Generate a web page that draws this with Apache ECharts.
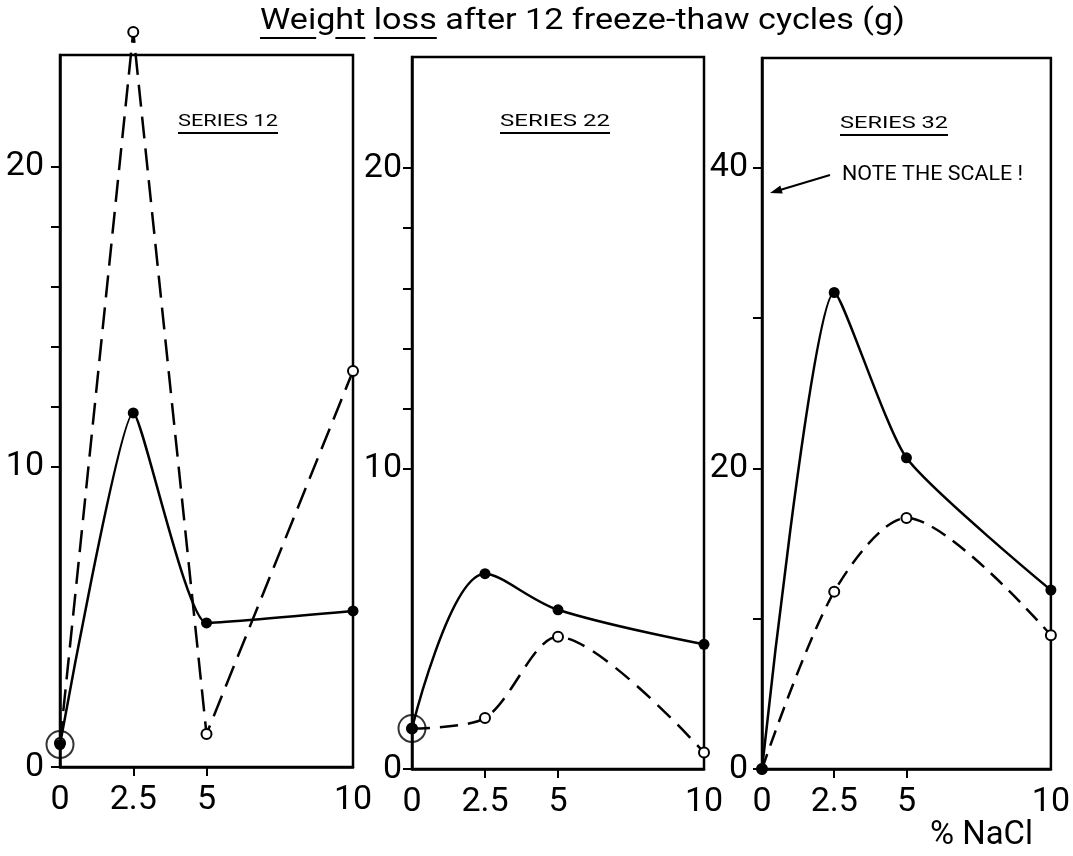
<!DOCTYPE html>
<html>
<head>
<meta charset="utf-8">
<script src="https://cdn.jsdelivr.net/npm/echarts@6/dist/echarts.min.js"></script>
<style>html,body{margin:0;padding:0;background:#fff}#c{width:1073px;height:856px}</style>
</head>
<body>
<div id="c"></div>
<script>
// ---- data ----
const nacl = [0, 2.5, 5, 10];
const xTickLabels = [0, 2.5, 5, 10];
const s12Filled = [0.75, 11.8, 4.8, 5.2];
const s12Open = [0.8, 24.5, 1.1, 13.2];
const s22Filled = [1.35, 6.5, 5.3, 4.15];
const s22Open = [1.35, 1.7, 4.4, 0.55];
const s32Filled = [0, 31.7, 20.7, 11.9];
const s32Open = [0, 11.8, 16.7, 8.9];
const yLabels12 = [0, 10, 20];
const yTicks12 = [0, 10, 12, 14, 16, 18, 20];
const yLabels22 = [0, 10, 20];
const yTicks22 = [0, 10, 12, 14, 16, 18, 20];
const yLabels32 = [0, 20, 40];
const yTicks32 = [0, 10, 20, 30, 40];
const panelTitles = ['SERIES 12', 'SERIES 22', 'SERIES 32'];
const chartTitle = 'Weight loss after 12 freeze-thaw cycles (g)';
const noteText = 'NOTE THE SCALE !';
const xName = '% NaCl';

// ---- helpers ----
const FONT = 'Roboto';
const cv = document.createElement('canvas').getContext('2d');
function tw(t, size) { cv.font = size + 'px ' + FONT; return cv.measureText(t).width; }
const pts = (ys) => nacl.map((x, i) => [x, ys[i]]);

function xAxis(gi) {
  return {
    type: 'value', gridIndex: gi, min: 0, max: 10,
    axisLine: { show: true, lineStyle: { color: '#000', width: 2.5 } },
    axisTick: { show: true, inside: false, length: 9, customValues: [2.5, 5], lineStyle: { color: '#000', width: 2 } },
    axisLabel: { customValues: xTickLabels, margin: 16, fontSize: 34, fontFamily: FONT, color: '#000',
      formatter: v => String(v) },
    splitLine: { show: false }
  };
}
function yAxis(gi, max, labels, ticks, margin) {
  return {
    type: 'value', gridIndex: gi, min: 0, max: max,
    axisLine: { show: true, lineStyle: { color: '#000', width: 2.5 } },
    axisTick: { show: true, inside: false, length: 9, customValues: ticks, lineStyle: { color: '#000', width: 2 } },
    axisLabel: { customValues: labels, margin: margin, fontSize: 34, fontFamily: FONT, color: '#000' },
    splitLine: { show: false }
  };
}
function solid(gi, ys, smooth) {
  return {
    type: 'line', xAxisIndex: gi, yAxisIndex: gi, data: pts(ys), smooth: smooth, clip: false,
    symbol: 'circle', symbolSize: 11, z: 4,
    itemStyle: { color: '#000' },
    lineStyle: { color: '#000', width: 2.5, type: 'solid' }
  };
}
function dashed(gi, ys, smooth, dash) {
  return {
    type: 'line', xAxisIndex: gi, yAxisIndex: gi, data: pts(ys), smooth: smooth, clip: false,
    symbol: 'circle', symbolSize: 10, z: 3,
    itemStyle: { color: '#fff', borderColor: '#000', borderWidth: 2 },
    lineStyle: { color: '#000', width: 2.5, type: dash }
  };
}
function ring(gi, y) {
  return {
    type: 'scatter', xAxisIndex: gi, yAxisIndex: gi, data: [[0, y]], clip: false,
    symbol: 'circle', symbolSize: 27, z: 2, silent: true,
    itemStyle: { color: 'rgba(0,0,0,0)', borderColor: '#000', borderWidth: 2 }
  };
}

// ---- text decorations ----
const graphics = [];
function addText(text, x, yMid, size, targetW) {
  const w = tw(text, size);
  const sx = targetW / w;
  graphics.push({ type: 'text', x: x, y: yMid, scaleX: sx, z: 10,
    style: { text: text, x: 0, y: 0, fontSize: size, fontFamily: FONT, fill: '#000', verticalAlign: 'middle', align: 'left' } });
  return sx;
}
function hline(x1, x2, y, w) {
  graphics.push({ type: 'line', z: 10, shape: { x1: x1, y1: y, x2: x2, y2: y }, style: { stroke: '#000', lineWidth: w || 2 } });
}

// title
const tsx = addText(chartTitle, 260, 21, 30, 645);
const wWeight = tw('Weight', 30) * tsx, wWei = tw('Wei', 30) * tsx, wWeig = tw('Weig', 30) * tsx;
const wWL = tw('Weight loss', 30) * tsx, wWs = tw('Weight ', 30) * tsx;
hline(260, 260 + wWei, 38, 2);
hline(260 + wWeig, 260 + wWeight, 38, 2);
hline(260 + wWs, 260 + wWL, 38, 2);
// panel labels
addText(panelTitles[0], 178, 122, 17, 100); hline(178, 278, 133, 2);
addText(panelTitles[1], 500, 122, 17, 110); hline(500, 610, 133, 2);
addText(panelTitles[2], 840, 123.5, 17, 108); hline(840, 948, 135, 2);
// note + arrow
addText(noteText, 842, 174.5, 20, 181);
graphics.push({ type: 'line', z: 10, shape: { x1: 830, y1: 175, x2: 780, y2: 190 }, style: { stroke: '#000', lineWidth: 2 } });
graphics.push({ type: 'polygon', z: 10, shape: { points: [[770, 193], [782.7, 193.4], [780.3, 185.4]] }, style: { fill: '#000' } });
// x name
addText(xName, 930, 835, 34, 103);

const option = {
  animation: false,
  backgroundColor: '#fff',
  grid: [
    { left: 60, top: 55, width: 293, height: 712, show: true, borderColor: '#000', borderWidth: 2.5 },
    { left: 412, top: 57, width: 292, height: 712, show: true, borderColor: '#000', borderWidth: 2.5 },
    { left: 762, top: 58, width: 296, height: 711, show: true, borderColor: '#000', borderWidth: 2.5 }
  ],
  xAxis: [xAxis(0), xAxis(1), xAxis(2)],
  yAxis: [
    yAxis(0, 23.73, yLabels12, yTicks12, 16),
    yAxis(1, 23.7, yLabels22, yTicks22, 10),
    yAxis(2, 47.3, yLabels32, yTicks32, 14)
  ],
  graphic: graphics,
  series: [
    ring(0, s12Filled[0]),
    dashed(0, s12Open, false, [22, 10]),
    solid(0, s12Filled, 0.15),
    ring(1, s22Filled[0]),
    dashed(1, s22Open, 0.3, [18, 10]),
    solid(1, s22Filled, 0.35),
    dashed(2, s32Open, 0.3, [16, 9]),
    solid(2, s32Filled, 0.2)
  ]
};
const chart = echarts.init(document.getElementById('c'), null, { renderer: 'canvas' });
chart.setOption(option);
</script>
</body>
</html>
